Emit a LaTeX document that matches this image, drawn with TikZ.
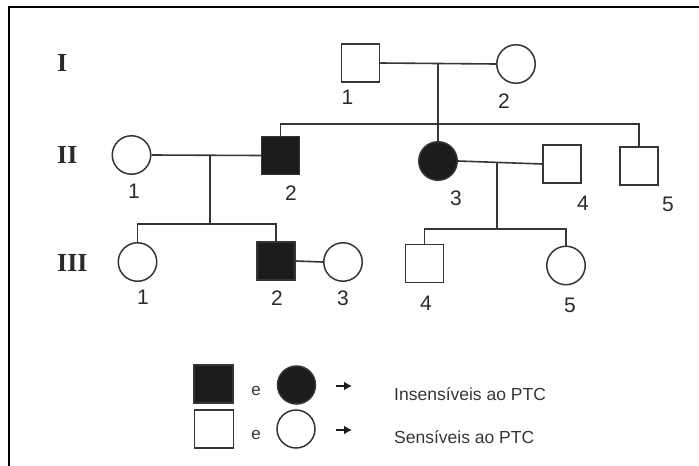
\documentclass[tikz,border=0pt]{standalone}
\usepackage{fontspec}
\setmainfont{Liberation Sans}
\newfontfamily\romanfont{Liberation Serif}
\usetikzlibrary{arrows.meta}
\definecolor{linegray}{HTML}{363636}
\definecolor{fillblack}{HTML}{1C1C1C}
\definecolor{textgray}{HTML}{2A2A2A}
\definecolor{legtext}{HTML}{363636}
\tikzset{
  pline/.style={draw=linegray, line width=1.6pt},
  male/.style={rectangle, draw=linegray, line width=1.5pt, minimum width=38pt, minimum height=38pt, inner sep=0pt},
  female/.style={circle, draw=linegray, line width=1.5pt, minimum size=38.5pt, inner sep=0pt},
  aff/.style={fill=fillblack},
  num/.style={font=\fontsize{21}{21}\selectfont, text=textgray, inner sep=0pt},
  gen/.style={font=\romanfont\bfseries\fontsize{26}{26}\selectfont, text=textgray, anchor=west, inner sep=0pt},
  legtxt/.style={font=\fontsize{17.5}{17.5}\selectfont, text=legtext, anchor=base west, inner sep=0pt},
  esym/.style={font=\fontsize{17}{17}\selectfont, text=legtext, inner sep=0pt},
  legarrow/.style={-{Latex[length=8pt,width=9pt]}, draw=fillblack, line width=2pt}
}
\begin{document}
\begin{tikzpicture}[x=1pt,y=-1pt]
\useasboundingbox (0,0) rectangle (699,466);
% frame (top and left sides)
\draw[line width=2.5pt, black] (9,466) -- (9,7) -- (699,7);

% generation labels
\node[gen] (gI) at (57,63) {I};
\node[gen] (gII) at (57,155) {II};
\node[gen] (gIII) at (57,263) {III};

% generation I
\node[male] (I1) at (360.5,63) {};
\node[female] (I2) at (516,64) {};
% generation II
\node[female] (II1) at (131.5,155) {};
\node[male,aff] (II2) at (280.5,155.5) {};
\node[female,aff] (II3) at (438,161) {};
\node[male] (II4) at (562,164) {};
\node[male] (II5) at (639,166) {};
% generation III
\node[female] (III1) at (137.5,262) {};
\node[male,aff] (III2) at (276,261) {};
\node[female] (III3) at (343,262) {};
\node[male] (III4) at (424.5,263.5) {};
\node[female] (III5) at (566,265.5) {};

% coordinates for family lines
\coordinate (m1) at (438,63.5);
\coordinate (s1) at (438,124);
\coordinate (m2) at (210,155);
\coordinate (s2) at (210,224);
\coordinate (m3) at (497,162.5);
\coordinate (s3) at (497,229);

% generation I couple and children
\draw[pline] (I1.east) -- (I2.west);
\draw[pline] (m1) -- (II3.north);
\draw[pline] (II2.north) -- (II2.north |- s1) -- (II5.north |- s1) -- (II5.north);
% II-1 x II-2
\draw[pline] (II1.east) -- (II2.west);
\draw[pline] (m2) -- (s2);
\draw[pline] (III1.north) -- (III1.north |- s2) -- (III2.north |- s2) -- (III2.north);
% II-3 x II-4
\draw[pline] (II3.east) -- (II4.west);
\draw[pline] (m3) -- (s3);
\draw[pline] (III4.north) -- (III4.north |- s3) -- (III5.north |- s3) -- (III5.north);
% III-2 x III-3
\draw[pline] (III2.east) -- (III3.west);

% individual numbers
\node[num] (nI1) at (347.5,97) {1};
\node[num] (nI2) at (504,101) {2};
\node[num] (nII1) at (134,191) {1};
\node[num] (nII2) at (291,193) {2};
\node[num] (nII3) at (456,198) {3};
\node[num] (nII4) at (583,203) {4};
\node[num] (nII5) at (668,204) {5};
\node[num] (nIII1) at (143,297) {1};
\node[num] (nIII2) at (277,298) {2};
\node[num] (nIII3) at (343,298) {3};
\node[num] (nIII4) at (426,303) {4};
\node[num] (nIII5) at (570,305) {5};

% legend
\node[male,aff,minimum width=39pt] (LA) at (213.5,384) {};
\node[esym] (eA) at (256,391) {e};
\node[female,aff,minimum size=38pt] (LB) at (296.5,385) {};
\coordinate (a1s) at (336,386);
\coordinate (a1e) at (352,386);
\draw[legarrow] (a1s) -- (a1e);
\node[legtxt] (t1) at (394,400) {Insensíveis ao PTC};

\node[male,minimum width=39pt] (LC) at (214,429) {};
\node[esym] (eB) at (256,435) {e};
\node[female,minimum size=38pt] (LD) at (296,429) {};
\coordinate (a2s) at (336,430);
\coordinate (a2e) at (352,430);
\draw[legarrow] (a2s) -- (a2e);
\node[legtxt] (t2) at (394,443) {Sensíveis ao PTC};
\end{tikzpicture}
\end{document}
